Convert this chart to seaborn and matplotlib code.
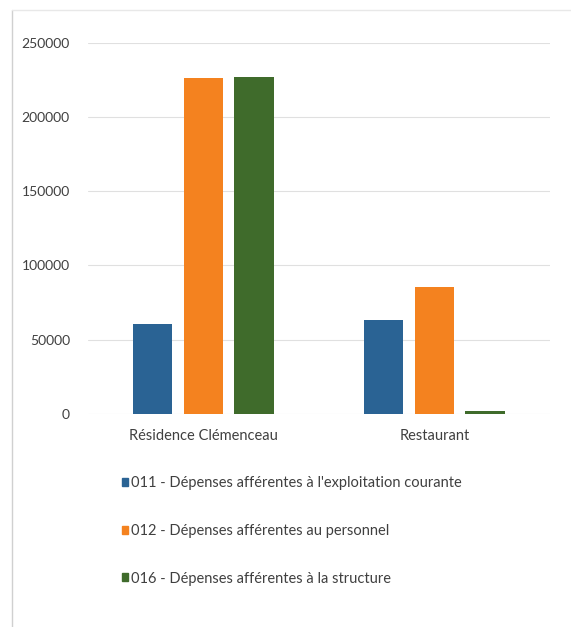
import matplotlib.pyplot as plt
import pandas as pd
import seaborn as sns

# Data
categories = ['Résidence Clémenceau', 'Restaurant']
series = ["011 - Dépenses afférentes à l'exploitation courante",
          '012 - Dépenses afférentes au personnel',
          '016 - Dépenses afférentes à la structure']
val_011 = [60500, 63300]
val_012 = [226300, 85500]
val_016 = [226800, 2000]
yticks = [0, 50000, 100000, 150000, 200000, 250000]
colors = ['#2a6394', '#f4821f', '#3f6b2b']

df = pd.DataFrame({
    'categorie': categories * 3,
    'serie': [series[0]] * 2 + [series[1]] * 2 + [series[2]] * 2,
    'valeur': val_011 + val_012 + val_016,
})

sns.set_style('white')
plt.rcParams['font.family'] = ['Lato', 'DejaVu Sans']

fig = plt.figure(figsize=(5.71, 6.27), dpi=100)
ax = fig.add_axes([0.154, 0.340, 0.809, 0.592])

sns.barplot(data=df, x='categorie', y='valeur', hue='serie', hue_order=series,
            palette=colors, width=0.66, gap=0.22, ax=ax, legend=False,
            saturation=1, linewidth=0)

ax.set_ylim(0, 250000)
ax.set_xlim(-0.5, 1.5)
ax.set_yticks(yticks)
ax.set_yticklabels([str(t) for t in yticks], fontsize=10, color='#404040')
ax.tick_params(axis='x', labelsize=10.5, labelcolor='#404040', length=0, pad=11)
ax.tick_params(axis='y', length=0, pad=13)
ax.yaxis.grid(True, color='#e0e0e0', linewidth=0.8)
ax.set_axisbelow(True)
ax.set_xlabel('')
ax.set_ylabel('')
for s in ax.spines.values():
    s.set_visible(False)

# Legend, one entry per row
handles = [plt.Rectangle((0, 0), 1, 1, color=c) for c in colors]
fig.legend(handles, series, loc='upper left', bbox_to_anchor=(0.19, 0.261),
           frameon=False, fontsize=10.5, handlelength=0.45, handleheight=0.45,
           handletextpad=0.2, labelspacing=2.3, labelcolor='#404040')

# Light frame of the chart area
fig.add_artist(plt.Line2D([0.021, 0.021], [0, 0.984], color='#d0d0d0', lw=1))
fig.add_artist(plt.Line2D([0.021, 1.0], [0.984, 0.984], color='#e8e8e8', lw=1))

fig.savefig('out.png', dpi=100)
